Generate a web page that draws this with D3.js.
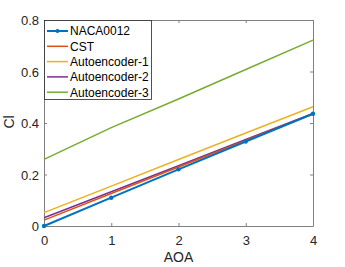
<!DOCTYPE html>
<html><head><meta charset="utf-8">
<script src="https://cdn.jsdelivr.net/npm/d3@7"></script>
<style>body{margin:0;background:#fff}svg{display:block}text{font-family:Helvetica,"Liberation Sans",Arial,sans-serif}</style>
</head><body><svg id="c" width="345" height="267"></svg>
<script>
const aoa = [0, 1, 2, 3, 4];
const seriesNames = ["NACA0012", "CST", "Autoencoder-1", "Autoencoder-2", "Autoencoder-3"];
const naca = [0, 0.110, 0.220, 0.328, 0.436];
const cst = [0.023, 0.126, 0.229, 0.332, 0.435];
const ae1 = [0.052, 0.155, 0.258, 0.361, 0.463];
const ae2 = [0.032, 0.133, 0.234, 0.336, 0.437];
const ae3 = [0.259, 0.382, 0.493, 0.608, 0.722];
const xTicks = [0, 1, 2, 3, 4];
const yTicks = [0, 0.2, 0.4, 0.6, 0.8];
const colors = ["#0072BD", "#D95319", "#EDB120", "#7E2F8E", "#77AC30"];
const data = [naca, cst, ae1, ae2, ae3];

const svg = d3.select("#c");
const L = 44, R = 313, T = 20, B = 226;
const x = d3.scaleLinear().domain([0, 4]).range([L, R]);
const y = d3.scaleLinear().domain([0, 0.8]).range([B, T]);
const axisCol = "#262626", boxCol = "#808080";

// axes
const xa = svg.append("g").attr("transform", `translate(0,${B})`)
  .call(d3.axisBottom(x).tickValues(xTicks).tickSizeInner(-3).tickSizeOuter(0).tickFormat(d3.format("d")));
xa.selectAll("text").attr("y", 19).attr("dy", 0);
const xt = svg.append("g").attr("transform", `translate(0,${T})`)
  .call(d3.axisTop(x).tickValues(xTicks).tickSizeInner(-3).tickSizeOuter(0).tickFormat(""));
const ya = svg.append("g").attr("transform", `translate(${L},0)`)
  .call(d3.axisLeft(y).tickValues(yTicks).tickSizeInner(-3).tickSizeOuter(0).tickFormat(d => d === 0 ? "0" : d3.format(".1f")(d)));
ya.selectAll("text").attr("x", -5).attr("dy", "0.36em");
const yr = svg.append("g").attr("transform", `translate(${R},0)`)
  .call(d3.axisRight(y).tickValues(yTicks).tickSizeInner(-3).tickSizeOuter(0).tickFormat(""));
[xa, xt, ya, yr].forEach(a => {
  a.selectAll("path").attr("stroke", boxCol).attr("stroke-width", 1);
  a.selectAll("line").attr("stroke", boxCol);
  a.selectAll("text").attr("fill", axisCol).style("font-size", "13px");
});

const line = d3.line().x((d, i) => x(aoa[i])).y(d => y(d));
for (let k = data.length - 1; k >= 0; k--) {
  svg.append("path").attr("d", line(data[k])).attr("fill", "none")
    .attr("stroke", colors[k]).attr("stroke-width", k === 0 ? 2 : 1.5);
}
svg.selectAll("circle.m").data(naca).enter().append("circle")
  .attr("cx", (d, i) => x(aoa[i])).attr("cy", d => y(d)).attr("r", 2.2).attr("fill", colors[0]);

// axis labels
svg.append("text").attr("x", (L + R) / 2).attr("y", 262).attr("text-anchor", "middle")
  .style("font-size", "14px").attr("fill", axisCol).text("AOA");
svg.append("text").attr("transform", `translate(14,122) rotate(-90)`).attr("text-anchor", "middle")
  .style("font-size", "14px").attr("fill", axisCol).text("Cl");

// legend
const lg = svg.append("g");
lg.append("rect").attr("x", L + 0.5).attr("y", T + 0.5).attr("width", 107).attr("height", 79)
  .attr("fill", "#fff").attr("stroke", axisCol).attr("stroke-width", 0.8);
seriesNames.forEach((n, i) => {
  const yy = T + 11 + i * 15.3;
  lg.append("line").attr("x1", L + 3).attr("x2", L + 24).attr("y1", yy).attr("y2", yy)
    .attr("stroke", colors[i]).attr("stroke-width", i === 0 ? 2 : 1.5);
  if (i === 0) lg.append("circle").attr("cx", L + 13.5).attr("cy", yy).attr("r", 2).attr("fill", colors[0]);
  lg.append("text").attr("x", L + 26).attr("y", yy + 4.3).style("font-size", "12px").attr("fill", "#000").text(n);
});
</script></body></html>
